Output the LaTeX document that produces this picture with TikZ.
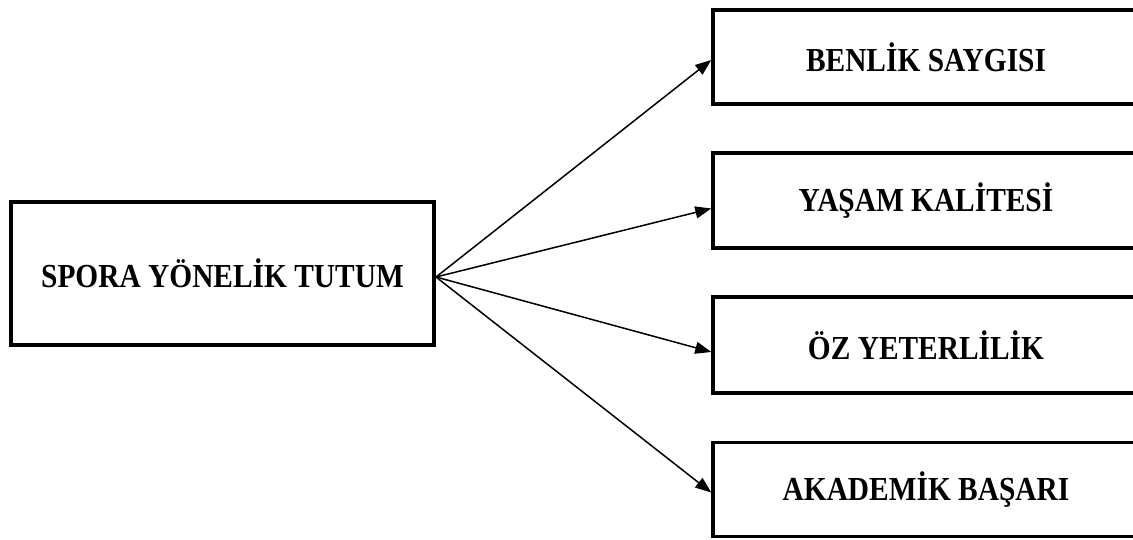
\documentclass[tikz,border=0pt]{standalone}
\usepackage{fontspec}
\setmainfont{Liberation Serif}
\usetikzlibrary{arrows.meta}
\newcommand{\tallt}[1]{\scalebox{0.98}[1.12]{#1}}
\begin{document}
\begin{tikzpicture}[x=1pt,y=-1pt,
  box/.style={draw=black,line width=3.5pt,fill=white,inner sep=0pt,font=\bfseries\fontsize{30}{34}\selectfont},
  conn/.style={line width=1.5pt,-{Triangle[length=16pt,width=12pt]}}]
\useasboundingbox (0,0) rectangle (1133,539);
\node[box,minimum width=423pt,minimum height=143pt] (src) at (222.5,273.5) {\tallt{SPORA YÖNELİK TUTUM}};
\node[box,minimum width=426pt,minimum height=94pt] (b1) at (926,57) {\tallt{BENLİK SAYGISI}};
\node[box,minimum width=426pt,minimum height=95pt] (b2) at (926,200.5) {\tallt{YAŞAM KALİTESİ}};
\node[box,minimum width=426pt,minimum height=96pt] (b3) at (926,345) {\tallt{ÖZ YETERLİLİK}};
\node[box,minimum width=426pt,minimum height=94pt] (b4) at (926,489.5) {\tallt{AKADEMİK BAŞARI}};
\coordinate (o) at (436,277);
\draw[conn] (o) -- ([yshift=-3pt]b1.west);
\draw[conn] (o) -- ([yshift=-8pt]b2.west);
\draw[conn] (o) -- ([yshift=-7pt]b3.west);
\draw[conn] (o) -- ([yshift=-3pt]b4.west);
\end{tikzpicture}
\end{document}
